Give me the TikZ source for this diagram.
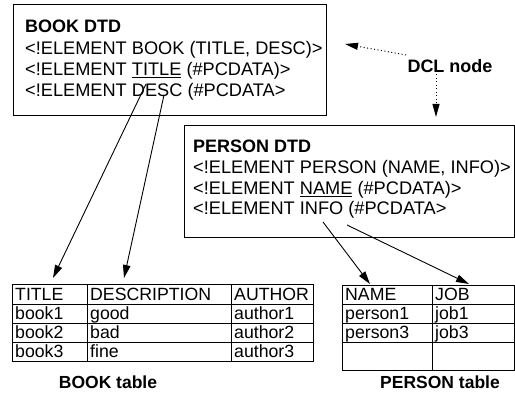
\documentclass[tikz,border=0pt]{standalone}
\usepackage{fontspec}
\setmainfont{Liberation Sans}
\usetikzlibrary{arrows.meta}
\begin{document}
\begin{tikzpicture}[x=1pt,y=-1pt,
  box/.style={draw, line width=0.8pt, inner sep=0, anchor=north west},
  dtd/.style={anchor=base west, inner sep=0, font=\fontsize{18.2}{21}\selectfont},
  dtdhead/.style={anchor=base west, inner sep=0, font=\fontsize{18}{21}\selectfont\bfseries},
  cell/.style={anchor=base west, inner sep=0, font=\fontsize{17.7}{20}\selectfont},
  caption/.style={anchor=base, inner sep=0, font=\fontsize{17.5}{20}\selectfont\bfseries},
  grid/.style={line width=0.8pt},
  link/.style={line width=0.9pt, -{Triangle[length=13pt,width=7.5pt]}},
  dcl/.style={line width=1pt, dash pattern=on 1pt off 2.5pt, -{Triangle[length=13pt,width=7pt]}}
]
\useasboundingbox (0,0) rectangle (515,398);

% BOOK DTD
\node[box, minimum width=313pt, minimum height=111pt] (bookdtd) at (13,4) {};
\node[dtdhead] (bh) at (25,33) {BOOK DTD};
\node[dtd] (b1) at (25,55) {<!ELEMENT BOOK (TITLE, DESC)>};
\node[dtd] (b2) at (25,76) {<!ELEMENT \underline{TITLE} (\#PCDATA)>};
\node[dtd] (b3) at (25,97) {<!ELEMENT DESC (\#PCDATA>};

% PERSON DTD
\node[box, minimum width=330pt, minimum height=112pt] (persondtd) at (184,125) {};
\node[dtdhead] (ph) at (193,153) {PERSON DTD};
\node[dtd] (p1) at (193,174) {<!ELEMENT PERSON (NAME, INFO)>};
\node[dtd] (p2) at (193,195) {<!ELEMENT \underline{NAME} (\#PCDATA)>};
\node[dtd] (p3) at (193,215) {<!ELEMENT INFO (\#PCDATA>};

% DCL node label and its dotted pointers
\node[inner sep=0, anchor=base, font=\fontsize{18}{21}\selectfont\bfseries] (dcl) at (450,73) {DCL node};
\coordinate (dclLeft) at (406,55);
\coordinate (dclDown) at (436,71);
\coordinate (bookDtdPort) at (345,44);
\coordinate (personDtdPort) at (436,117);
\draw[dcl] (dclLeft) -- (bookDtdPort);
\draw[dcl] (dclDown) -- (personDtdPort);

% BOOK table
\draw[grid] (12,284) rectangle (313,361);
\foreach \y in {304,323,342} \draw[grid] (12,\y) -- (313,\y);
\foreach \x in {87,231} \draw[grid] (\x,284) -- (\x,361);
\node[cell] (tTitle) at (15,301) {TITLE};
\node[cell] (tDesc) at (90,301) {DESCRIPTION};
\node[cell] (tAuthor) at (234,301) {AUTHOR};
\node[cell] at (15,320) {book1};
\node[cell] at (90,320) {good};
\node[cell] at (234,320) {author1};
\node[cell] at (15,339) {book2};
\node[cell] at (90,339) {bad};
\node[cell] at (234,339) {author2};
\node[cell] at (15,358) {book3};
\node[cell] at (90,358) {fine};
\node[cell] at (234,358) {author3};
\node[caption] (bookcap) at (108,389) {BOOK table};

% PERSON table
\draw[grid] (342,285) rectangle (514,370);
\foreach \y in {304,323,342} \draw[grid] (342,\y) -- (514,\y);
\draw[grid] (432,285) -- (432,370);
\node[cell] (tName) at (345,301) {NAME};
\node[cell] (tJob) at (435,301) {JOB};
\node[cell] at (345,320) {person1};
\node[cell] at (435,320) {job1};
\node[cell] at (345,339) {person3};
\node[cell] at (435,339) {job3};
\node[caption] (personcap) at (440,389) {PERSON table};

% element-to-column links
\coordinate (titleSrc) at (146,84);
\coordinate (descSrc) at (164,95);
\coordinate (nameSrc) at (323,222);
\coordinate (infoSrc) at (347,225);
\coordinate (titleCol) at (53,278);
\coordinate (descCol) at (124,278);
\coordinate (nameCol) at (370,284);
\coordinate (jobCol) at (469,284);
\draw[link] (titleSrc) -- (titleCol);
\draw[link] (descSrc) -- (descCol);
\draw[link] (nameSrc) -- (nameCol);
\draw[link] (infoSrc) -- (jobCol);
\end{tikzpicture}
\end{document}
